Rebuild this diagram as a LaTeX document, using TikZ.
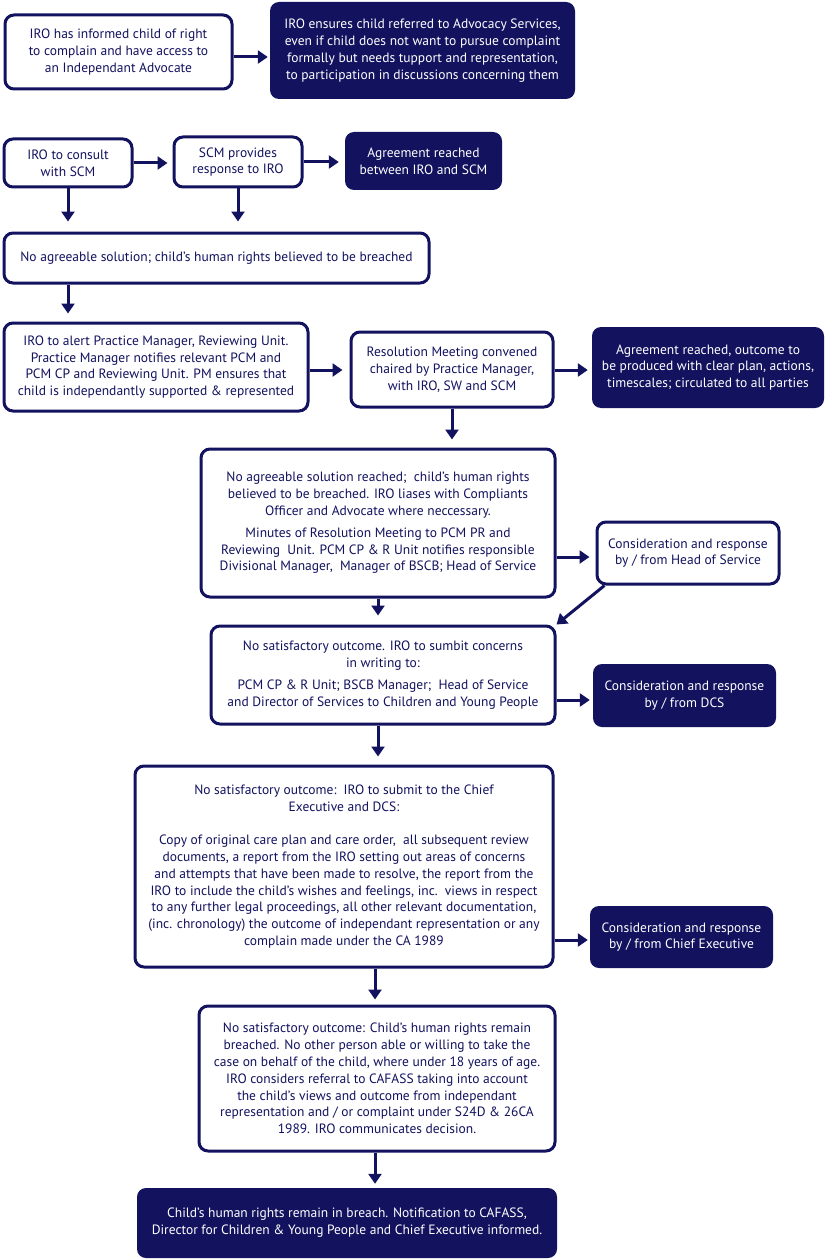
\documentclass[tikz,border=0pt]{standalone}
\usepackage{fontspec}
\setmainfont{PT Sans}
\usetikzlibrary{arrows.meta}
\definecolor{navy}{HTML}{12125F}
\tikzset{
  wbox/.style={draw=navy, line width=3pt, rounded corners=9pt, fill=white, text=navy, align=center, inner sep=0pt, font=\fontsize{13.5}{16.8}\selectfont},
  dbox/.style={fill=navy, rounded corners=9pt, text=white, align=center, inner sep=0pt, font=\fontsize{13.5}{16.8}\selectfont},
  arr/.style={draw=navy, line width=3pt, -{Triangle[length=10pt,width=13pt]}},
}
\begin{document}
\begin{tikzpicture}[x=1pt,y=-1pt]
\useasboundingbox (0,0) rectangle (825,1260);
% row 1
\node[wbox, minimum width=227pt, minimum height=74pt] (b1) at (118.5,52) {IRO has informed child of right\\to complain and have access to\\an Independant Advocate};
\node[dbox, minimum width=305pt, minimum height=97pt] (b2) at (422.5,50.5) {IRO ensures child referred to Advocacy Services,\\even if child does not want to pursue complaint\\formally but needs tupport and representation,\\to participation in discussions concerning them};
% row 2
\node[wbox, minimum width=128pt, minimum height=48pt] (c1) at (68,163) {IRO to consult\\with SCM};
\node[wbox, minimum width=128pt, minimum height=50pt] (c2) at (238,162) {SCM provides\\response to IRO};
\node[dbox, minimum width=157pt, minimum height=58pt] (c3) at (423.5,161) {Agreement reached\\between IRO and SCM};
% row 3
\node[wbox, minimum width=425pt, minimum height=50pt] (d) at (216.5,258) {No agreeable solution; child's human rights believed to be breached};
% row 4
\node[wbox, minimum width=304pt, minimum height=88pt] (e1) at (156,367) {IRO to alert Practice Manager, Reviewing Unit.\\Practice Manager notifies relevant PCM and\\PCM CP and Reviewing Unit. PM ensures that\\child is independantly supported \& represented};
\node[wbox, minimum width=202pt, minimum height=75pt] (e2) at (452,369.5) {Resolution Meeting convened\\chaired by Practice Manager,\\with IRO, SW and SCM};
\node[dbox, minimum width=232pt, minimum height=81pt] (e3) at (708,367.5) {Agreement reached, outcome to\\be produced with clear plan, actions,\\timescales; circulated to all parties};
% row 5
\node[wbox, minimum width=354pt, minimum height=148pt] (f1) at (378,523) {No agreeable solution reached;\ \ child's human rights\\believed to be breached. IRO liases with Compliants\\Officer and Advocate where neccessary.\\[5pt]Minutes of Resolution Meeting to PCM PR and\\Reviewing\ \ Unit. PCM CP \& R Unit notifies responsible\\Divisional Manager,\ \ Manager of BSCB; Head of Service};
\node[wbox, minimum width=182pt, minimum height=62pt] (f2) at (688,553) {Consideration and response\\by / from Head of Service};
% row 6
\node[wbox, minimum width=344pt, minimum height=98pt] (g1) at (383,675) {No satisfactory outcome. IRO to sumbit concerns\\in writing to:\\[5pt]PCM CP \& R Unit; BSCB Manager;\ \ Head of Service\\and Director of Services to Children and Young People};
\node[dbox, minimum width=183pt, minimum height=63pt] (g2) at (684.5,695.5) {Consideration and response\\by / from DCS};
% row 7
\node[wbox, minimum width=418pt, minimum height=201pt] (h1) at (344,866.5) {No satisfactory outcome:\ \ IRO to submit to the Chief\\Executive and DCS:\\[16.8pt]Copy of original care plan and care order,\ \ all subsequent review\\documents, a report from the IRO setting out areas of concerns\\and attempts that have been made to resolve, the report from the\\IRO to include the child's wishes and feelings, inc.\ \ views in respect\\to any further legal proceedings, all other relevant documentation,\\(inc. chronology) the outcome of independant representation or any\\complain made under the CA 1989};
\node[dbox, minimum width=183pt, minimum height=62pt] (h2) at (681.5,937) {Consideration and response\\by / from Chief Executive};
% row 8
\node[wbox, minimum width=356pt, minimum height=145pt] (i1) at (377,1078.5) {No satisfactory outcome: Child's human rights remain\\breached. No other person able or willing to take the\\case on behalf of the child, where under 18 years of age.\\IRO considers referral to CAFASS taking into account\\the child's views and outcome from independant\\representation and / or complaint under S24D \& 26CA\\1989. IRO communicates decision.};
% row 9
\node[dbox, minimum width=420pt, minimum height=70pt] (j1) at (347,1223) {Child's human rights remain in breach. Notification to CAFASS,\\Director for Children \& Young People and Chief Executive informed.};
% connectors
\draw[arr, shorten >=2pt] (b1.east |- 0,57) -- (b2.west |- 0,57);
\draw[arr, shorten >=5pt] (c1.east) -- (c1.east -| c2.west);
\draw[arr, shorten >=6pt] (c2.east) -- (c2.east -| c3.west);
\draw[arr, shorten >=10pt] (c1.south) -- (c1.south |- d.north);
\draw[arr, shorten >=10pt] (c2.south) -- (c2.south |- d.north);
\draw[arr, shorten >=8pt] (d.south -| c1.south) -- (e1.north -| c1.south);
\draw[arr, shorten >=7pt] (e1.east |- 0,370) -- (e2.west |- 0,370);
\draw[arr, shorten >=4pt] (e2.east |- 0,370) -- (e3.west |- 0,370);
\draw[arr, shorten >=8pt] (e2.south) -- (e2.south |- f1.north);
\draw[arr, shorten >=6pt] (f1.east |- 0,557) -- (f2.west |- 0,557);
\draw[arr, shorten >=9pt] (f1.south) -- (f1.south |- g1.north);
\draw[arr] ([xshift=9pt]f2.south west) -- (g1.north east);
\draw[arr, shorten >=3pt] (g1.east |- 0,700) -- (g2.west |- 0,700);
\draw[arr, shorten >=8pt] (g1.south -| f1.south) -- (h1.north -| f1.south);
\draw[arr, shorten >=2pt] (h1.east |- 0,940) -- (h2.west |- 0,940);
\draw[arr, shorten >=5pt] (h1.south -| 375,0) -- (i1.north -| 375,0);
\draw[arr, shorten >=4pt] (i1.south -| 375,0) -- (j1.north -| 375,0);
\end{tikzpicture}
\end{document}
